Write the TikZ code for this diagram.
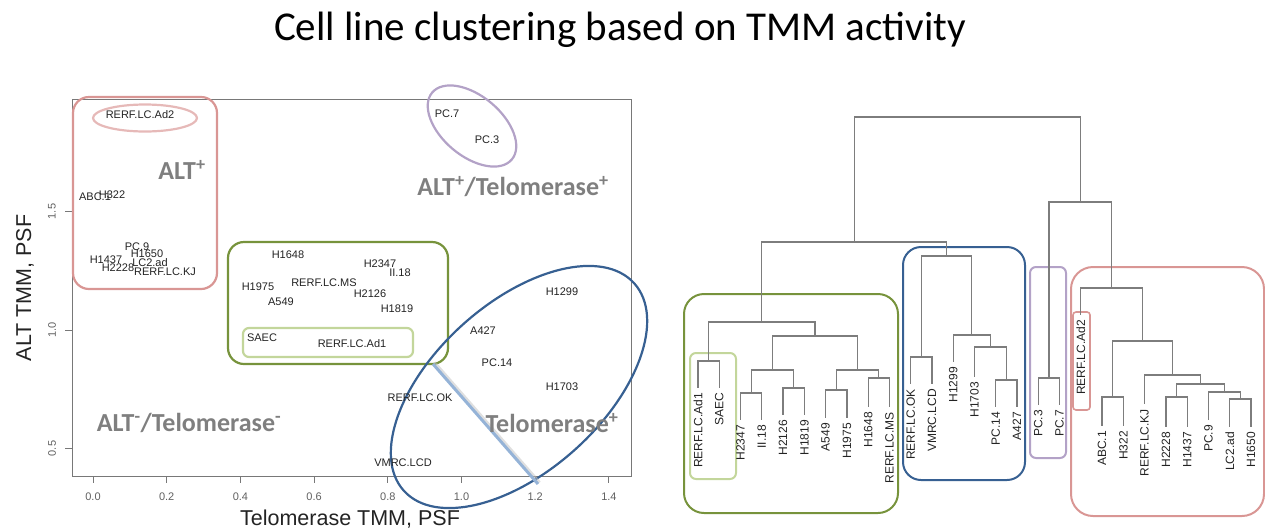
\documentclass[tikz,border=0pt]{standalone}
\usepackage{fontspec}
\setmainfont{Liberation Sans}
\newfontfamily\calibri{Carlito}
\definecolor{axisgray}{RGB}{120,120,120}
\definecolor{inkgray}{RGB}{35,35,35}
\definecolor{regiongray}{RGB}{127,127,127}
\definecolor{dendgray}{RGB}{125,125,125}
\definecolor{altred}{RGB}{217,150,148}
\definecolor{altredlight}{RGB}{230,185,184}
\definecolor{mixgreen}{RGB}{119,147,60}
\definecolor{mixgreenlight}{RGB}{195,214,155}
\definecolor{telblue}{RGB}{55,96,146}
\definecolor{dualpurple}{RGB}{179,162,199}
\definecolor{linkblue}{RGB}{149,179,215}
\begin{document}
\begin{tikzpicture}[x=1pt,y=-1pt,
  pt/.style={font=\fontsize{11}{12}\selectfont, text=inkgray, inner sep=0pt},
  leaf/.style={font=\fontsize{12}{13}\selectfont, text=inkgray, rotate=90, anchor=east, inner sep=0pt},
  region/.style={font=\calibri\bfseries\fontsize{26}{28}\selectfont, text=regiongray, inner sep=0pt},
  ticklab/.style={font=\fontsize{11}{12}\selectfont, text=axisgray!80!black, inner sep=0pt},
  axtitle/.style={font=\fontsize{21.5}{24}\selectfont, text=inkgray, inner sep=0pt},
  dend/.style={draw=dendgray, line width=1.3pt},
  grp/.style={line width=2.2pt},
]
\useasboundingbox (0,0) rectangle (1265,531);

% title
\node[font=\calibri\fontsize{41}{45}\selectfont, anchor=base, inner sep=0pt] (title) at (620,40) {Cell line clustering based on TMM activity};

% ---------------- scatter plot ----------------
\draw[axisgray, line width=1pt] (72,99) rectangle (631,476);
\foreach \v/\t in {0/0.0,0.2/0.2,0.4/0.4,0.6/0.6,0.8/0.8,1.0/1.0,1.2/1.2,1.4/1.4}{
  \draw[axisgray, line width=1pt] ({93+\v*368.5},476) -- ({93+\v*368.5},483);
  \node[ticklab] (xt\t) at ({93+\v*368.5},497) {\t};
}
\foreach \v/\t in {0.5/0.5,1.0/1.0,1.5/1.5}{
  \draw[axisgray, line width=1pt] (72,{330-(\v-1)*237}) -- (65,{330-(\v-1)*237});
  \node[ticklab, rotate=90] (yt\t) at (52,{330-(\v-1)*237}) {\t};
}
\node[axtitle] (xtitle) at (350,519) {Telomerase TMM, PSF};
\node[axtitle, rotate=90] (ytitle) at (25,288) {ALT TMM, PSF};

% group outlines
\draw[grp, altred, rounded corners=16pt] (73,97) rectangle (217,289);
\draw[grp, altredlight] (145,118) ellipse [x radius=52pt, y radius=13.5pt];
\draw[grp, mixgreen, rounded corners=16pt] (228,242) rectangle (448,364);
\draw[grp, mixgreenlight, rounded corners=6pt] (243,328) rectangle (413,357);
\draw[grp, dualpurple, rotate around={-40:(472,126)}] (472,126) ellipse [x radius=52pt, y radius=30pt];
\draw[grp, telblue, rotate around={42:(519,387)}] (519,387) ellipse [x radius=155pt, y radius=84pt];

% divider between the green box and the x axis
\coordinate (gcorner) at (433,364);
\coordinate (xaxisend) at (538,484);
\draw[black!25, line width=3pt, opacity=0.5] ([xshift=1.5pt,yshift=1.5pt]gcorner) -- ([xshift=1.5pt,yshift=1.5pt]xaxisend);
\draw[linkblue, line width=3pt] (gcorner) -- (xaxisend);

% region labels
\node[region] (altpos) at (182,170) {ALT\textsuperscript{+}};
\node[region] (dualpos) at (513,187) {ALT\textsuperscript{+}/Telomerase\textsuperscript{+}};
\node[region] (dualneg) at (189,423) {ALT\textsuperscript{-}/Telomerase\textsuperscript{-}};
\node[region] (telpos) at (552,423) {Telomerase\textsuperscript{+}};

% cell lines
\node[pt] (sAd2) at (140,115) {RERF.LC.Ad2};
\node[pt] (sABC) at (95,197) {ABC.1};
\node[pt] (sH322) at (112,195) {H322};
\node[pt] (sPC9) at (137,247) {PC.9};
\node[pt] (sH1650) at (147,254) {H1650};
\node[pt] (sLC2) at (150,263) {LC2.ad};
\node[pt] (sH1437) at (106,260) {H1437};
\node[pt] (sH2228) at (118,268) {H2228};
\node[pt] (sKJ) at (165,272) {RERF.LC.KJ};
\node[pt] (sH1648) at (288,255) {H1648};
\node[pt] (sH2347) at (380,264) {H2347};
\node[pt] (sIL18) at (400,273) {II.18};
\node[pt] (sH1975) at (258,287) {H1975};
\node[pt] (sMS) at (324,283) {RERF.LC.MS};
\node[pt] (sH2126) at (370,294) {H2126};
\node[pt] (sA549) at (281,302) {A549};
\node[pt] (sH1819) at (397,309) {H1819};
\node[pt] (sSAEC) at (262,338) {SAEC};
\node[pt] (sAd1) at (352,344) {RERF.LC.Ad1};
\node[pt] (sPC7) at (447,114) {PC.7};
\node[pt] (sPC3) at (487,140) {PC.3};
\node[pt] (sH1299) at (562,292) {H1299};
\node[pt] (sA427) at (483,331) {A427};
\node[pt] (sPC14) at (497,363) {PC.14};
\node[pt] (sH1703) at (562,387) {H1703};
\node[pt] (sOK) at (420,398) {RERF.LC.OK};
\node[pt] (sVMRC) at (403,463) {VMRC.LCD};

% ---------------- dendrogram ----------------
% cluster outlines
\draw[grp, line width=2pt, mixgreen, rounded corners=20pt] (684,294) rectangle (898,513);
\draw[grp, line width=2pt, mixgreenlight, rounded corners=6pt] (690,353) rectangle (736,479);
\draw[grp, line width=2pt, telblue, rounded corners=18pt] (903,247) rectangle (1025,480);
\draw[grp, line width=2pt, dualpurple, rounded corners=6pt] (1030,267) rectangle (1066,458);
\draw[grp, line width=2pt, altred, rounded corners=22pt] (1071,267) rectangle (1264,516);
\draw[grp, line width=1.6pt, altred, rounded corners=3pt] (1073,312) rectangle (1090,410);

% leaves: name / x / end of leaf line / label
\foreach \n/\x/\y/\t in {
  Ad1/698/388/RERF.LC.Ad1, SAEC/719.3/388/SAEC,
  H2347/740.5/420/H2347, IL18/761.8/420/II.18,
  H2126/783.1/415/H2126, H1819/804.4/415/H1819,
  A549/825.6/418/A549, H1975/846.9/418/H1975,
  H1648/868.2/407/H1648, MS/889.4/407/RERF.LC.MS,
  OK/910.7/384/RERF.LC.OK, VMRC/932/384/VMRC.LCD,
  H1299/953.2/362/H1299, H1703/974.5/377/H1703,
  PC14/995.8/407/PC.14, A427/1017/407/A427,
  PC3/1038.3/405/PC.3, PC7/1059.6/405/PC.7,
  Ad2/1080.8/315/RERF.LC.Ad2,
  ABC1/1102.1/426/ABC.1, H322/1123.4/426/H322,
  KJ/1144.6/404/RERF.LC.KJ,
  H2228/1165.9/427/H2228, H1437/1187.2/427/H1437,
  PC9/1208.4/420/PC.9, LC2ad/1229.7/427/LC2.ad, H1650/1251/427/H1650}{
  \coordinate (l\n) at (\x,\y);
  \node[leaf] (t\n) at (\x,\y+5) {\t};
}

% merge points
\coordinate (g1) at (708.7,361);
\coordinate (g2) at (751.2,393);
\coordinate (g3) at (793.8,388);
\coordinate (g4) at (772.5,370);
\coordinate (g5) at (836.3,390);
\coordinate (g6) at (878.8,378);
\coordinate (g7) at (857.6,370);
\coordinate (g8) at (815.0,336);
\coordinate (G) at (761.8,322);
\coordinate (b1) at (921.4,357);
\coordinate (b2) at (1006.4,380);
\coordinate (b3) at (990.5,347);
\coordinate (b4) at (971.8,335);
\coordinate (B) at (946.6,256);
\coordinate (L) at (854.2,242);
\coordinate (P) at (1049,378);
\coordinate (r1) at (1112.8,397);
\coordinate (r2) at (1176.6,397);
\coordinate (r3) at (1240.4,399);
\coordinate (r4) at (1224.4,392);
\coordinate (r5) at (1200.5,384);
\coordinate (r6) at (1172.6,375);
\coordinate (r7) at (1142.7,341);
\coordinate (Rd) at (1111.8,288);
\coordinate (R) at (1080.4,202);
\coordinate (root) at (967.3,117);

% branches
\draw[dend] (g1) -| (lAd1) (g1) -| (lSAEC);
\draw[dend] (g2) -| (lH2347) (g2) -| (lIL18);
\draw[dend] (g3) -| (lH2126) (g3) -| (lH1819);
\draw[dend] (g4) -| (g2) (g4) -| (g3);
\draw[dend] (g5) -| (lA549) (g5) -| (lH1975);
\draw[dend] (g6) -| (lH1648) (g6) -| (lMS);
\draw[dend] (g7) -| (g5) (g7) -| (g6);
\draw[dend] (g8) -| (g4) (g8) -| (g7);
\draw[dend] (G) -| (g1) (G) -| (g8);
\draw[dend] (b1) -| (lOK) (b1) -| (lVMRC);
\draw[dend] (b2) -| (lPC14) (b2) -| (lA427);
\draw[dend] (b3) -| (lH1703) (b3) -| (b2);
\draw[dend] (b4) -| (lH1299) (b4) -| (b3);
\draw[dend] (B) -| (b1) (B) -| (b4);
\draw[dend] (L) -| (G) (L) -| (B);
\draw[dend] (P) -| (lPC3) (P) -| (lPC7);
\draw[dend] (r1) -| (lABC1) (r1) -| (lH322);
\draw[dend] (r2) -| (lH2228) (r2) -| (lH1437);
\draw[dend] (r3) -| (lLC2ad) (r3) -| (lH1650);
\draw[dend] (r4) -| (lPC9) (r4) -| (r3);
\draw[dend] (r5) -| (r2) (r5) -| (r4);
\draw[dend] (r6) -| (lKJ) (r6) -| (r5);
\draw[dend] (r7) -| (r1) (r7) -| (r6);
\draw[dend] (Rd) -| (lAd2) (Rd) -| (r7);
\draw[dend] (R) -| (P) (R) -| (Rd);
\draw[dend] (root) -| (L) (root) -| (R);
\end{tikzpicture}
\end{document}
